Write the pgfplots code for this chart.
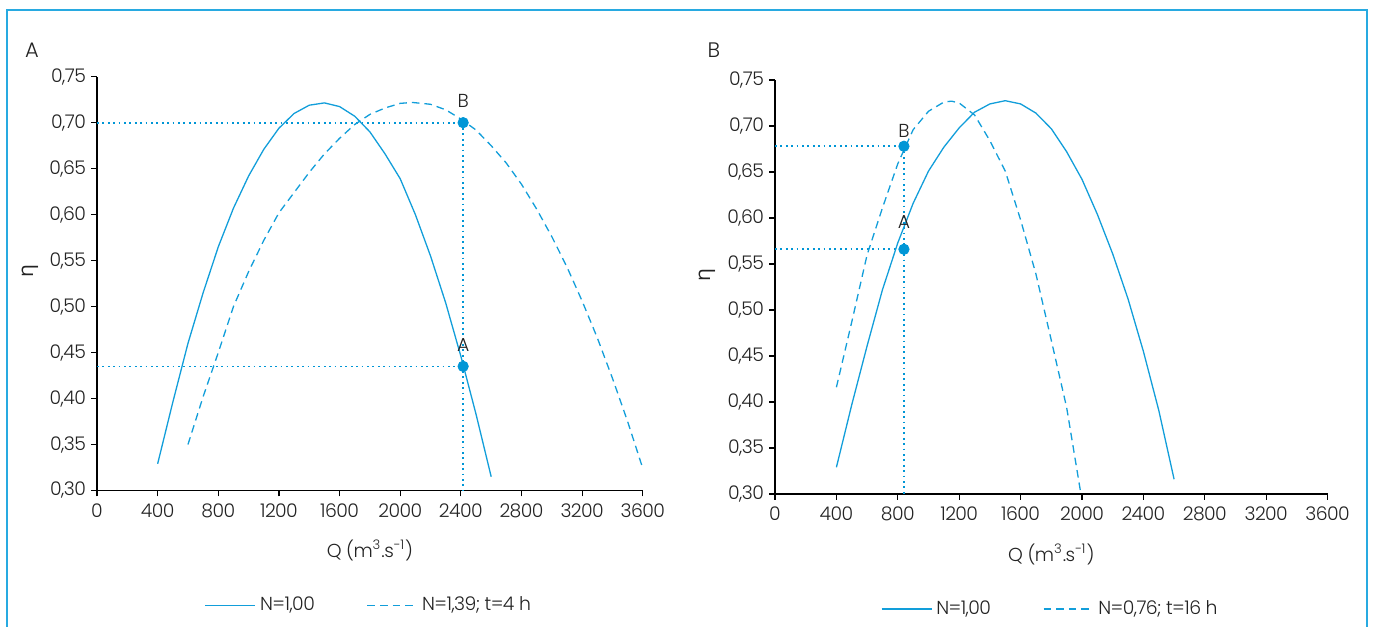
\documentclass[border=0pt]{standalone}
\usepackage{fontspec}
\setmainfont{Poppins}[UprightFont={* Light}, LetterSpace=-3]
\newfontfamily\grk{Open Sans}
\usepackage{pgfplots}
\pgfplotsset{compat=1.18}
\definecolor{lblue}{RGB}{18,158,218}
\definecolor{dblue}{RGB}{0,150,214}
\definecolor{fblue}{RGB}{40,170,225}
\definecolor{txt}{RGB}{35,35,35}
\newcommand{\fs}{\fontsize{9.4}{11}\selectfont}
\pgfplotsset{
  effstyle/.style={
    scale only axis,
    axis lines*=left,
    xmin=0,xmax=3600,ymin=0.3,ymax=0.75,
    xtick={0,400,800,1200,1600,2000,2400,2800,3200,3600},
    xticklabels={0,400,800,1200,1600,2000,2400,2800,3200,3600},
    ytick={0.30,0.35,0.40,0.45,0.50,0.55,0.60,0.65,0.70,0.75},
    yticklabels={{0,30},{0,35},{0,40},{0,45},{0,50},{0,55},{0,60},{0,65},{0,70},{0,75}},
    tick align=outside,
    major tick length=3pt,
    tick style={black, line width=0.6pt},
    axis line style={black, line width=0.7pt},
    tick label style={font=\fs, text=txt},
    yticklabel style={xshift=1pt},
    label style={font=\fs, text=txt},
    xlabel={Q (m\textsuperscript{3}.s\textsuperscript{-1})},
    ylabel={{\grk\fontsize{10.5}{12}\selectfont η}},
    xlabel style={at={(0.5,-0.145)}, anchor=center},
    ylabel style={at={(-0.123,0.53)}, anchor=center},
    legend style={draw=none, fill=none, font=\fs, text=txt, at={(0.5,-0.278)}, anchor=center,
      /tikz/every even column/.append style={column sep=24pt}},
    legend columns=2,
    legend image code/.code={\draw[##1] (0pt,0pt) -- (25pt,0pt);},
  },
  solidc/.style={lblue, line width=0.65pt},
  dashc/.style={lblue, line width=0.65pt, dash pattern=on 3.8pt off 2.5pt},
  dotc/.style={dblue, line width=0.85pt, dash pattern=on 0.9pt off 1.8pt, forget plot},
  ptc/.style={only marks, mark=*, mark size=2.6pt, dblue, mark options={draw=dblue, fill=dblue},
    nodes near coords, point meta=explicit symbolic,
    every node near coord/.append style={font=\fs, text=txt, anchor=south}, forget plot},
}
\begin{document}
\begin{tikzpicture}[x=1pt,y=1pt]
\path[use as bounding box] (0,0) rectangle (687.5,313);
\draw[fblue, line width=1pt] (3.5,-2) -- (3.5,308) -- (683.5,308) -- (683.5,-2);
\node[font=\fontsize{10.5}{12}\selectfont, text=txt] at (16,288) {A};
\node[font=\fontsize{10.5}{12}\selectfont, text=txt] at (357,288) {B};

% Panel A
\begin{axis}[effstyle, width=272.9pt, height=206.9pt, at={(48.5pt,67.75pt)}, anchor=south west]
\addplot[dotc] coordinates {(0,0.700) (2415,0.700)};
\addplot[dotc] coordinates {(0,0.435) (2415,0.435)};
\addplot[dotc] coordinates {(2415,0.700) (2415,0.300)};
\addplot[solidc] coordinates {
(400,0.329) (500,0.396) (600,0.460) (700,0.515) (800,0.565) (900,0.607) (1000,0.642)
(1100,0.671) (1200,0.694) (1300,0.710) (1400,0.719) (1500,0.7215) (1600,0.7175)
(1700,0.707) (1800,0.690) (1900,0.666) (2000,0.639) (2100,0.600) (2200,0.555)
(2300,0.504) (2400,0.446) (2500,0.383) (2600,0.315)};
\addlegendentry{N=1,00}
\addplot[dashc] coordinates {
(600,0.350) (700,0.402) (800,0.450) (900,0.500) (1000,0.538) (1100,0.572) (1200,0.602)
(1300,0.624) (1400,0.646) (1500,0.666) (1600,0.683) (1700,0.698) (1800,0.709)
(1900,0.716) (2000,0.721) (2080,0.722) (2200,0.720) (2300,0.714) (2400,0.704)
(2500,0.692) (2600,0.675) (2700,0.656) (2800,0.633) (2900,0.606) (3000,0.576)
(3100,0.543) (3200,0.506) (3300,0.466) (3400,0.422) (3500,0.375) (3600,0.324)};
\addlegendentry{N=1,39; t=4 h}
\addplot[ptc, every node near coord/.append style={yshift=4pt}] table[meta=lab] {
x y lab
2415 0.700 B
};
\addplot[ptc, every node near coord/.append style={yshift=4pt}] table[meta=lab] {
x y lab
2415 0.435 A
};
\end{axis}

% Panel B
\begin{axis}[effstyle, width=276.3pt, height=207pt, at={(387.5pt,66pt)}, anchor=south west]
\addplot[dotc] coordinates {(0,0.678) (840,0.678)};
\addplot[dotc] coordinates {(0,0.566) (840,0.566)};
\addplot[dotc] coordinates {(840,0.678) (840,0.300)};
\addplot[solidc] coordinates {
(400,0.329) (500,0.397) (600,0.461) (700,0.522) (800,0.573) (900,0.616) (1000,0.651)
(1100,0.677) (1200,0.698) (1300,0.715) (1400,0.724) (1500,0.7275) (1600,0.724)
(1700,0.714) (1800,0.697) (1900,0.672) (2000,0.642) (2100,0.604) (2200,0.561)
(2300,0.512) (2400,0.455) (2500,0.391) (2600,0.316)};
\addlegendentry{N=1,00}
\addplot[dashc] coordinates {
(400,0.416) (500,0.487) (600,0.560) (700,0.611) (800,0.659) (900,0.696) (1000,0.716)
(1100,0.726) (1150,0.727) (1200,0.725) (1300,0.712) (1400,0.684) (1500,0.651)
(1600,0.598) (1700,0.539) (1800,0.467) (1900,0.394) (1990,0.303)};
\addlegendentry{N=0,76; t=16 h}
\addplot[ptc, every node near coord/.append style={yshift=1pt}] table[meta=lab] {
x y lab
840 0.678 B
};
\addplot[ptc, every node near coord/.append style={yshift=7pt}] table[meta=lab] {
x y lab
840 0.566 A
};
\end{axis}
\end{tikzpicture}
\end{document}
